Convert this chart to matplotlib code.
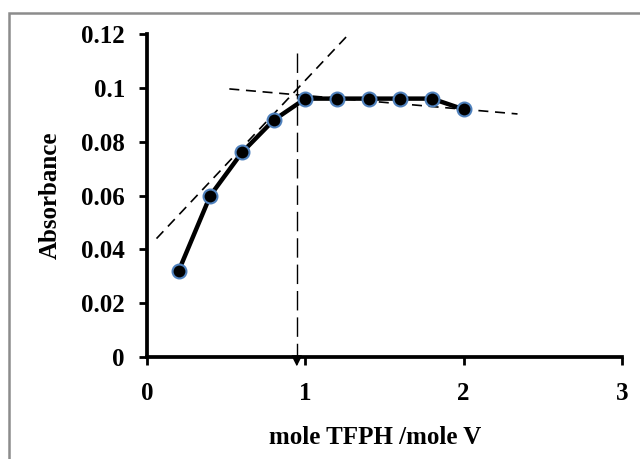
import matplotlib.pyplot as plt
from matplotlib.patches import Rectangle

# mole ratio data
ratio = [0.2, 0.4, 0.6, 0.8, 1.0, 1.2, 1.4, 1.6, 1.8, 2.0]
absorb = [0.032, 0.060, 0.076, 0.088, 0.096, 0.096, 0.096, 0.096, 0.096, 0.092]

# dashed construction lines
rise_x = [0.06, 1.28]
rise_y = [0.044, 0.1203]
flat_x = [0.52, 2.34]
flat_y = [0.0996, 0.0903]
break_x = 0.946
break_top = 0.113

xticks = [0, 1, 2, 3]
yticks = [0, 0.02, 0.04, 0.06, 0.08, 0.1, 0.12]
ylabels = ['0', '0.02', '0.04', '0.06', '0.08', '0.1', '0.12']

plt.rcParams['font.family'] = ['Liberation Serif', 'DejaVu Serif']
plt.rcParams['font.weight'] = 'bold'

fig = plt.figure(figsize=(6.4, 4.59), dpi=100)
ax = fig.add_axes([0.2297, 0.2222, 0.7422, 0.7037])

# gray frame around the chart area
fig.patches.append(Rectangle((9/640, -0.1), 1.2, (459-13)/459 + 0.1,
                             transform=fig.transFigure, fill=False,
                             edgecolor='#8c8c8c', linewidth=1.8))

ax.plot(rise_x, rise_y, color='black', linestyle=(0, (6, 4)), linewidth=1.2)
ax.plot(flat_x, flat_y, color='black', linestyle=(0, (6, 4)), linewidth=1.2)
ax.plot([break_x, break_x], [break_top, 0], color='black',
        linestyle=(0, (14, 5)), linewidth=1.0, clip_on=False)
ax.annotate('', xy=(break_x, -0.0045), xytext=(break_x, 0.001),
            arrowprops=dict(arrowstyle='-|>', color='black', lw=1.0,
                            mutation_scale=16), annotation_clip=False)

ax.plot(ratio, absorb, color='black', linewidth=3.2, marker='o',
        markersize=10, markerfacecolor='black', markeredgecolor='#4f81bd',
        markeredgewidth=1.5, zorder=3)

ax.set_xlim(0, 3)
ax.set_ylim(0, 0.12)
ax.set_xticks(xticks)
ax.set_xticklabels([str(t) for t in xticks])
ax.set_yticks(yticks)
ax.set_yticklabels(ylabels)

for s in ['top', 'right']:
    ax.spines[s].set_visible(False)
for s in ['left', 'bottom']:
    ax.spines[s].set_linewidth(2.7)
ax.tick_params(axis='both', width=2, length=6, labelsize=18, direction='out')
ax.tick_params(axis='x', pad=12)
ax.tick_params(axis='y', pad=10)

ax.set_xlabel('mole TFPH /mole V', fontsize=18, fontweight='bold')
ax.xaxis.set_label_coords((375 - 147) / 475, -0.215)
ax.set_ylabel('Absorbance', fontsize=18, fontweight='bold', labelpad=14)

fig.savefig('out.png', dpi=100)
